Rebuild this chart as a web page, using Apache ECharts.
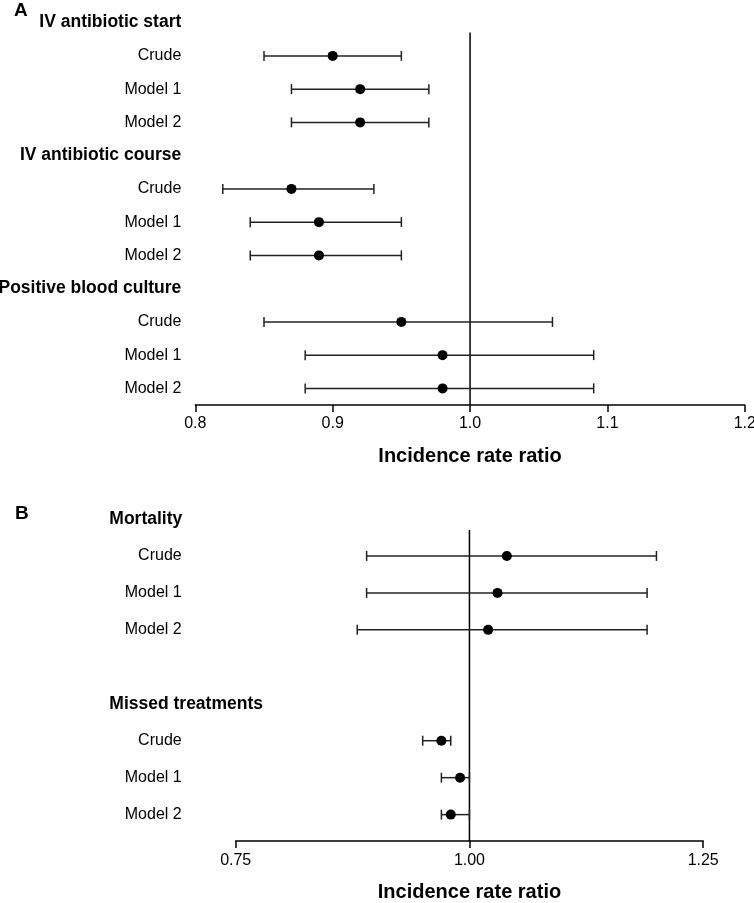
<!DOCTYPE html>
<html>
<head>
<meta charset="utf-8">
<script src="https://cdn.jsdelivr.net/npm/echarts@6/dist/echarts.min.js"></script>
<style>
html,body{margin:0;padding:0;background:#fff;}
#chart{width:754px;height:903px;}
</style>
</head>
<body>
<div id="chart"></div>
<script>
// ---- Data ----
const modelNames = ['Crude', 'Model 1', 'Model 2'];

const aGroups = ['IV antibiotic start', 'IV antibiotic course', 'Positive blood culture'];
const aEst = [0.90, 0.92, 0.92, 0.87, 0.89, 0.89, 0.95, 0.98, 0.98];
const aLow = [0.85, 0.87, 0.87, 0.82, 0.84, 0.84, 0.85, 0.88, 0.88];
const aHigh = [0.95, 0.97, 0.97, 0.93, 0.95, 0.95, 1.06, 1.09, 1.09];
const aTicks = [0.8, 0.9, 1.0, 1.1, 1.2];

const bGroups = ['Mortality', 'Missed treatments'];
const bEst = [1.04, 1.03, 1.02, 0.97, 0.99, 0.98];
const bLow = [0.89, 0.89, 0.88, 0.95, 0.97, 0.97];
const bHigh = [1.20, 1.19, 1.19, 0.98, 1.00, 1.00];
const bTicks = [0.75, 1.00, 1.25];

const refValue = 1.0;
const axisTitle = 'Incidence rate ratio';

// ---- Build rows ----
function buildRows(groups, blankBetween) {
  const rows = [];
  const modelRowIdx = [];
  const headerRowIdx = [];
  groups.forEach((g, gi) => {
    headerRowIdx.push(rows.length);
    rows.push({ label: g, header: true });
    modelNames.forEach(m => { modelRowIdx.push(rows.length); rows.push({ label: m, header: false }); });
    if (blankBetween && gi < groups.length - 1) rows.push({ label: '', header: false });
  });
  return { rows, modelRowIdx, headerRowIdx };
}
const A = buildRows(aGroups, false);
const B = buildRows(bGroups, true);

const FONT = '"Liberation Sans", Arial, Helvetica, sans-serif';
const BAR_COLOR = '#222';

function errRender(params, api) {
  const r = api.value(2);
  const p1 = api.coord([api.value(0), r]);
  const p2 = api.coord([api.value(1), r]);
  const h = 5;
  const st = { stroke: BAR_COLOR, lineWidth: 1.5 };
  return {
    type: 'group',
    children: [
      { type: 'line', shape: { x1: p1[0], y1: p1[1], x2: p2[0], y2: p2[1] }, style: st },
      { type: 'line', shape: { x1: p1[0], y1: p1[1] - h, x2: p1[0], y2: p1[1] + h }, style: st },
      { type: 'line', shape: { x1: p2[0], y1: p2[1] - h, x2: p2[0], y2: p2[1] + h }, style: st }
    ]
  };
}
function refRender(axisOffset) {
  return function (params, api) {
    const p = api.coord([api.value(0), api.value(1)]);
    const band = api.size([0, 1])[1];
    const y1 = p[1] + 0.3 * band;
    const y2 = params.coordSys.y + params.coordSys.height + axisOffset;
    return { type: 'line', shape: { x1: p[0], y1: y1, x2: p[0], y2: y2 }, style: { stroke: '#000', lineWidth: 1.5 } };
  };
}

function xAxisCfg(gridIndex, min, max, interval, digits, offset) {
  return {
    type: 'value', gridIndex, min, max, interval, offset, position: 'bottom',
    name: axisTitle, nameLocation: 'middle', nameGap: 41,
    nameTextStyle: { fontFamily: FONT, fontSize: 20, fontWeight: 'bold', color: '#000' },
    axisLine: { show: true, lineStyle: { color: '#000', width: 1.5 } },
    axisTick: { show: true, length: 7, lineStyle: { color: '#000', width: 1.5 } },
    splitLine: { show: false },
    axisLabel: { margin: 11, fontFamily: FONT, fontSize: 16, color: '#000', formatter: v => v.toFixed(digits) }
  };
}
function yAxisCfg(gridIndex, rows, showHeaders, align, margin) {
  return {
    type: 'category', gridIndex, inverse: true, position: 'left', offset: 0,
    data: rows.map(r => r.label),
    axisLine: { show: false }, axisTick: { show: false }, splitLine: { show: false },
    axisLabel: {
      interval: 0, margin, align, fontFamily: FONT, color: '#000',
      formatter: (v, i) => {
        const r = rows[i];
        if (!r || r.label === '') return '';
        if (r.header !== showHeaders) return '';
        return showHeaders ? '{h|' + v + '}' : '{m|' + v + '}';
      },
      rich: {
        h: { fontFamily: FONT, fontSize: 17.5, fontWeight: 'bold', color: '#000' },
        m: { fontFamily: FONT, fontSize: 16, color: '#000' }
      }
    }
  };
}

const aOffset = 0, bOffset = 8;
const option = {
  animation: false,
  backgroundColor: '#fff',
  title: [
    { text: 'A', left: 9, top: -4, textStyle: { fontFamily: FONT, fontSize: 19, fontWeight: 'bold', color: '#000' } },
    { text: 'B', left: 10, top: 499, textStyle: { fontFamily: FONT, fontSize: 19, fontWeight: 'bold', color: '#000' } }
  ],
  grid: [
    { left: 195.3, width: 549.5, top: 6, height: 399, containLabel: false, outerBoundsMode: 'none' },
    { left: 235.7, width: 467.5, top: 500.5, height: 332.6, containLabel: false, outerBoundsMode: 'none' }
  ],
  xAxis: [
    xAxisCfg(0, aTicks[0], aTicks[aTicks.length - 1], 0.1, 1, aOffset),
    xAxisCfg(1, bTicks[0], bTicks[bTicks.length - 1], 0.25, 2, bOffset)
  ],
  yAxis: [
    yAxisCfg(0, A.rows, false, 'right', 14),
    yAxisCfg(0, A.rows, true, 'right', 14),
    yAxisCfg(1, B.rows, false, 'right', 54),
    yAxisCfg(1, B.rows, true, 'left', 126.4)
  ],
  series: [
    { type: 'custom', xAxisIndex: 0, yAxisIndex: 0, z: 1, clip: false,
      renderItem: refRender(aOffset), encode: { x: 0, y: 1 },
      data: [[refValue, A.headerRowIdx[0]]] },
    { type: 'custom', xAxisIndex: 0, yAxisIndex: 0, z: 2, renderItem: errRender, encode: { x: [0, 1], y: 2 },
      data: aLow.map((lo, i) => [lo, aHigh[i], A.modelRowIdx[i]]) },
    { type: 'scatter', xAxisIndex: 0, yAxisIndex: 0, z: 3, symbol: 'circle', symbolSize: 10,
      itemStyle: { color: '#000', opacity: 1 },
      data: aEst.map((v, i) => [v, A.modelRowIdx[i]]) },

    { type: 'custom', xAxisIndex: 1, yAxisIndex: 2, z: 1, clip: false,
      renderItem: refRender(bOffset), encode: { x: 0, y: 1 },
      data: [[refValue, B.headerRowIdx[0]]] },
    { type: 'custom', xAxisIndex: 1, yAxisIndex: 2, z: 2, renderItem: errRender, encode: { x: [0, 1], y: 2 },
      data: bLow.map((lo, i) => [lo, bHigh[i], B.modelRowIdx[i]]) },
    { type: 'scatter', xAxisIndex: 1, yAxisIndex: 2, z: 3, symbol: 'circle', symbolSize: 10,
      itemStyle: { color: '#000', opacity: 1 },
      data: bEst.map((v, i) => [v, B.modelRowIdx[i]]) }
  ]
};

const chart = echarts.init(document.getElementById('chart'), null, { renderer: 'canvas' });
chart.setOption(option);
</script>
</body>
</html>
